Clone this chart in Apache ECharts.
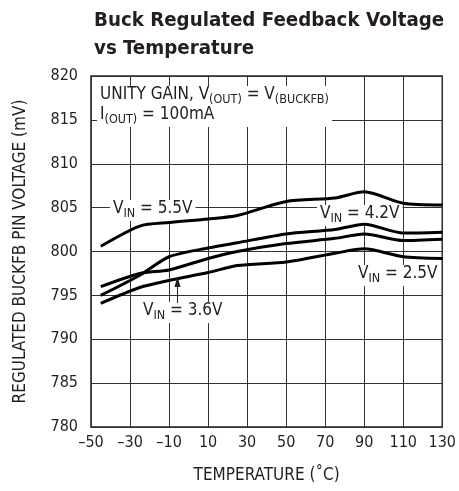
<!DOCTYPE html>
<html>
<head>
<meta charset="utf-8">
<script src="https://cdn.jsdelivr.net/npm/echarts@6/dist/echarts.min.js"></script>
<style>
html,body{margin:0;padding:0;background:#fff;}
#c{width:459px;height:491px;}
</style>
</head>
<body>
<div id="c"></div>
<script>
var temps = [-45, -25, -10, 10, 25, 50, 75, 90, 110, 130];
var vin55 = [800.6, 802.9, 803.3, 803.7, 804.1, 805.7, 806.1, 806.8, 805.5, 805.3];
var vin42 = [795.0, 797.3, 799.4, 800.4, 801.0, 802.0, 802.5, 803.1, 802.1, 802.2];
var vin36 = [796.0, 797.5, 797.9, 799.2, 800.0, 800.9, 801.5, 802.0, 801.25, 801.4];
var vin25 = [794.1, 795.9, 796.7, 797.6, 798.4, 798.8, 799.8, 800.3, 799.4, 799.2];
var xTicks = [-50, -30, -10, 10, 30, 50, 70, 90, 110, 130];

var FONT = '"DejaVu Sans Condensed", "Liberation Sans Narrow", sans-serif';

function pairs(xs, ys) { return xs.map(function (x, i) { return [x, ys[i]]; }); }

var chart = echarts.init(document.getElementById('c'), null, {renderer: 'canvas'});

var richStyles = {
  n: {fontFamily: FONT, fontSize: 17, color: '#222', verticalAlign: 'top', lineHeight: 20},
  s: {fontFamily: FONT, fontSize: 12.5, color: '#222', verticalAlign: 'top', lineHeight: 20, padding: [7, 0, 0, 0]}
};

function label(x, y, text) {
  return {
    type: 'text', left: x, top: y, z: 3,
    style: {
      text: text, rich: richStyles, fontFamily: FONT, fontSize: 17, fill: '#222',
      backgroundColor: '#fff', padding: [0, 3, 1, 3]
    }
  };
}

var series = [vin55, vin42, vin36, vin25].map(function (v) {
  return {
    type: 'line', data: pairs(temps, v), showSymbol: false, smooth: 0.25,
    lineStyle: {color: '#000', width: 3}, z: 5
  };
});

chart.setOption({
  animation: false,
  textStyle: {fontFamily: FONT},
  title: {
    text: 'Buck Regulated Feedback Voltage\nvs Temperature',
    left: 89, top: 2,
    textStyle: {fontFamily: FONT, fontWeight: 'bold', fontSize: 20.3, color: '#231f20', lineHeight: 28}
  },
  grid: {left: 91, right: 16, top: 76, bottom: 64, show: true, borderColor: '#231f20', borderWidth: 1.5},
  xAxis: {
    type: 'value', min: -50, max: 130,
    name: 'TEMPERATURE (˚C)', nameLocation: 'middle', nameGap: 40,
    nameTextStyle: {fontFamily: FONT, fontSize: 17, color: '#231f20'},
    axisLine: {show: false},
    axisTick: {show: false, customValues: xTicks},
    axisLabel: {
      customValues: xTicks, fontFamily: FONT, fontSize: 16, color: '#231f20', margin: 8,
      formatter: function (v) { return String(v).replace('-', '–'); }
    },
    splitLine: {show: true, lineStyle: {color: '#333', width: 1}}
  },
  yAxis: {
    type: 'value', min: 780, max: 820, interval: 5,
    name: 'REGULATED BUCKFB PIN VOLTAGE (mV)', nameLocation: 'middle', nameGap: 62,
    nameTextStyle: {fontFamily: FONT, fontSize: 17, color: '#231f20'},
    axisLine: {show: false},
    axisTick: {show: false},
    axisLabel: {fontFamily: FONT, fontSize: 16, color: '#231f20', margin: 13},
    splitLine: {show: true, lineStyle: {color: '#333', width: 1}}
  },
  series: series,
  graphic: [
    label(97, 86, '{n|UNITY GAIN, V}{s|(OUT)}{n| = V}{s|(BUCKFB)}\n{n|I}{s|(OUT)}{n| = 100mA}'),
    label(110, 200, '{n|V}{s|IN}{n| = 5.5V}'),
    label(317, 205, '{n|V}{s|IN}{n| = 4.2V}'),
    label(355, 265, '{n|V}{s|IN}{n| = 2.5V}'),
    label(140, 302, '{n|V}{s|IN}{n| = 3.6V}'),
    {type: 'line', z: 11, shape: {x1: 177.5, y1: 303, x2: 177.5, y2: 283}, style: {stroke: '#222', lineWidth: 1}},
    {type: 'polygon', z: 11, shape: {points: [[177.5, 276], [174.5, 287], [180.5, 287]]}, style: {fill: '#222'}}
  ]
});
</script>
</body>
</html>
